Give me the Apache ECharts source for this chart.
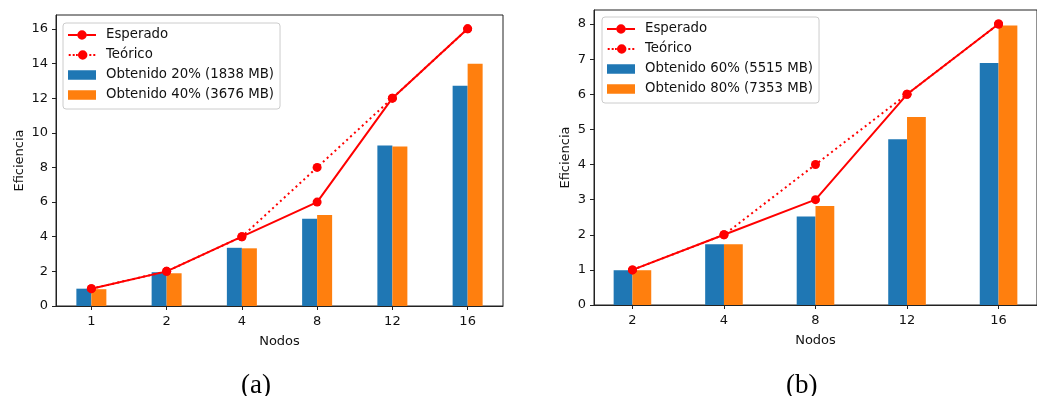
<!DOCTYPE html>
<html><head><meta charset="utf-8">
<script src="https://cdn.jsdelivr.net/npm/echarts@6/dist/echarts.min.js"></script>
<style>html,body{margin:0;padding:0;background:#fff}#c{width:1037px;height:396px}</style>
</head><body><div id="c"></div>
<script>
const catsA = ['1','2','4','8','12','16'];
const esperadoA = [1,2,4,6,12,16];
const teoricoA = [1,2,4,8,12,16];
const obt20 = [1.00,1.95,3.36,5.04,9.27,12.72];
const obt40 = [0.97,1.89,3.33,5.25,9.21,13.98];
const yTicksA = [0,2,4,6,8,10,12,14,16];

const catsB = ['2','4','8','12','16'];
const esperadoB = [1,2,3,6,8];
const teoricoB = [1,2,4,6,8];
const obt60 = [0.99,1.73,2.52,4.72,6.89];
const obt80 = [0.99,1.73,2.82,5.35,7.96];
const yTicksB = [0,1,2,3,4,5,6,7,8];

const FONT = 'DejaVu Sans';
const RED = '#ff0000', BLUE = '#1f77b4', ORANGE = '#ff7f0e';
const DOT = [2, 3.3];

// legend icons (28 x 9.5 box): line + circle marker
const CIRCLE = 'M9.25,4.75 A4.75,4.75 0 1,1 18.75,4.75 A4.75,4.75 0 1,1 9.25,4.75 Z';
const ICON_SOLID = 'path://M0,3.75 L9.3,3.75 L9.3,5.75 L0,5.75 Z M18.7,3.75 L28,3.75 L28,5.75 L18.7,5.75 Z ' + CIRCLE;
const ICON_DOT = 'path://M0,3.75 L2,3.75 L2,5.75 L0,5.75 Z M4,3.75 L6,3.75 L6,5.75 L4,5.75 Z M7.3,3.75 L9.1,3.75 L9.1,5.75 L7.3,5.75 Z M20.6,3.75 L22.6,3.75 L22.6,5.75 L20.6,5.75 Z M24.6,3.75 L26.6,3.75 L26.6,5.75 L24.6,5.75 Z ' + CIRCLE;

function pts(arr){ return arr.map((v,i)=>[i,v]); }
function idx(cats){ return cats.map((_,i)=>i); }

function xAxis(gi, cats, min, max){
  return {
    type:'value', gridIndex:gi, min:min, max:max,
    name:'Nodos', nameLocation:'middle', nameGap:29,
    nameTextStyle:{fontFamily:FONT,fontSize:13,color:'#111'},
    axisLine:{show:true,onZero:false,lineStyle:{color:'#222',width:1}},
    axisTick:{show:true,length:4,lineStyle:{color:'#222'},customValues:idx(cats)},
    axisLabel:{fontFamily:FONT,fontSize:13,color:'#111',margin:9,customValues:idx(cats),
      formatter:(v)=>cats[Math.round(v)]},
    splitLine:{show:false}
  };
}
function yAxis(gi, ticks, max, gap){
  return {
    type:'value', gridIndex:gi, min:0, max:max,
    name:'Eficiencia', nameLocation:'middle', nameGap:gap, nameRotate:90,
    nameTextStyle:{fontFamily:FONT,fontSize:13,color:'#111'},
    axisLine:{show:true,onZero:false,lineStyle:{color:'#222',width:1}},
    axisTick:{show:true,length:4,lineStyle:{color:'#222'},customValues:ticks},
    axisLabel:{fontFamily:FONT,fontSize:13,color:'#111',margin:8,customValues:ticks},
    splitLine:{show:false}
  };
}
function bar(name, gi, data, color, bw){
  return {type:'bar', name:name, xAxisIndex:gi, yAxisIndex:gi, data:pts(data),
    barWidth:bw, barGap:'0%', itemStyle:{color:color}, z:1, animation:false};
}
function line(name, gi, data, dashed, z){
  return {type:'line', name:name, xAxisIndex:gi, yAxisIndex:gi, data:pts(data),
    symbol:'circle', symbolSize:9, showSymbol:true,
    lineStyle:{color:RED,width:2,type:dashed?DOT:'solid'},
    itemStyle:{color:RED}, z:z, animation:false};
}
function legend(names, left, top){
  return {
    left:left, top:top, orient:'vertical',
    data:[
      {name:names[0], icon:ICON_SOLID},
      {name:names[1], icon:ICON_DOT},
      {name:names[2], icon:'rect'},
      {name:names[3], icon:'rect'}
    ],
    itemWidth:28, itemHeight:9.5, itemGap:6,
    padding:[5,6,7,5],
    backgroundColor:'rgba(255,255,255,0.85)',
    borderColor:'#cccccc', borderWidth:1, borderRadius:3,
    textStyle:{fontFamily:FONT,fontSize:13.3,color:'#111',lineHeight:14,padding:[0,0,0,5]},
    selectedMode:false
  };
}

const chart = echarts.init(document.getElementById('c'), null, {renderer:'canvas'});
chart.setOption({
  animation:false,
  backgroundColor:'#fff',
  grid:[
    {left:56, top:15, right:534, bottom:90, show:true, borderColor:'#222', borderWidth:1, backgroundColor:'transparent'},
    {left:594, top:10, right:-12.5, bottom:91, show:true, borderColor:'#222', borderWidth:1, backgroundColor:'transparent'}
  ],
  xAxis:[ xAxis(0, catsA, -0.47, 5.47), xAxis(1, catsB, -0.42, 4.42) ],
  yAxis:[ yAxis(0, yTicksA, 16.8, 30), yAxis(1, yTicksB, 8.4, 22) ],
  legend:[
    legend(['Esperado','Teórico','Obtenido 20% (1838 MB)','Obtenido 40% (3676 MB)'], 63, 23),
    legend(['Esperado','Teórico','Obtenido 60% (5515 MB)','Obtenido 80% (7353 MB)'], 602, 17)
  ],
  series:[
    bar('Obtenido 20% (1838 MB)',0,obt20,BLUE,15),
    bar('Obtenido 40% (3676 MB)',0,obt40,ORANGE,15),
    line('Teórico',0,teoricoA,true,3),
    line('Esperado',0,esperadoA,false,4),
    bar('Obtenido 60% (5515 MB)',1,obt60,BLUE,18.8),
    bar('Obtenido 80% (7353 MB)',1,obt80,ORANGE,18.8),
    line('Teórico',1,teoricoB,true,3),
    line('Esperado',1,esperadoB,false,4)
  ],
  graphic:[
    {type:'text', left:241, top:372, style:{text:'(a)', font:'27px "Liberation Serif"', fill:'#000'}},
    {type:'text', left:786, top:372, style:{text:'(b)', font:'27px "Liberation Serif"', fill:'#000'}}
  ]
});
</script></body></html>
